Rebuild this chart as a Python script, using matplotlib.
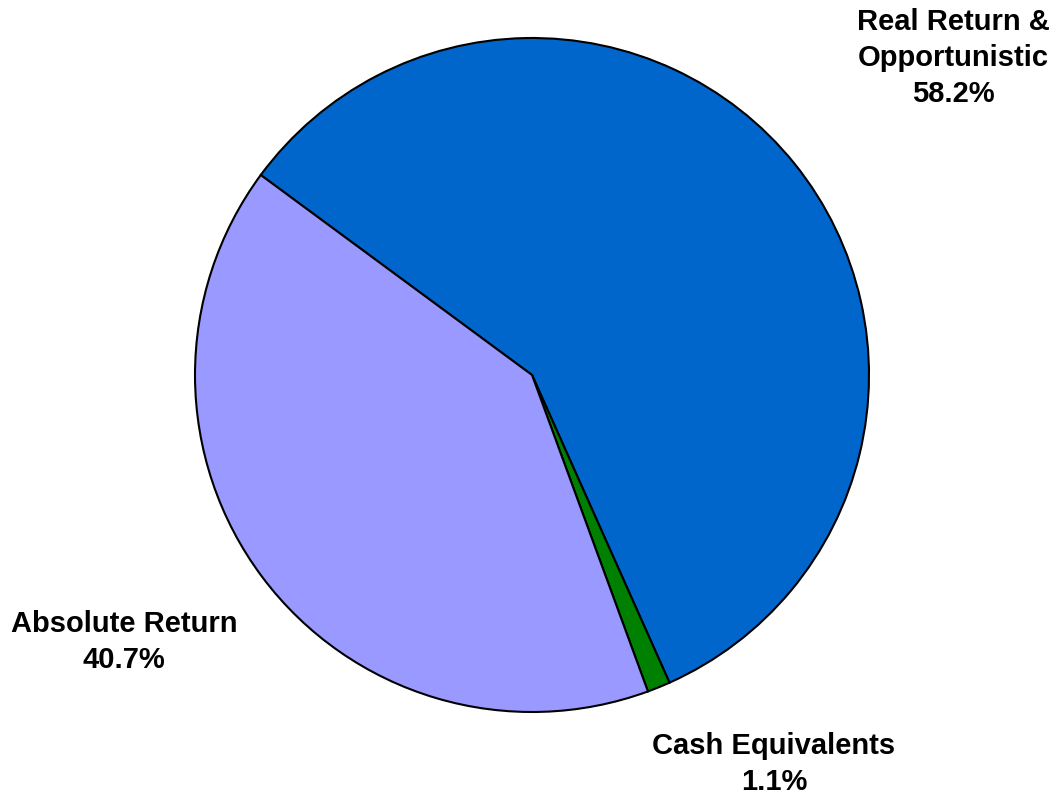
import matplotlib
matplotlib.use("Agg")
import matplotlib.pyplot as plt

# Allocation shares (percent), drawn clockwise
categories = ["Real Return &\nOpportunistic", "Cash Equivalents", "Absolute Return"]
shares = [58.2, 1.1, 40.7]
colors = ["#0066CC", "#008000", "#9999FF"]

W, H = 1054, 798
fig = plt.figure(figsize=(W / 100, H / 100), dpi=100)
ax = fig.add_axes([0, 0, 1, 1])

ax.pie(shares, colors=colors, startangle=143.6, counterclock=False,
       radius=337, center=(532, H - 375), frame=True,
       wedgeprops=dict(edgecolor="black", linewidth=1.5))
ax.set_xlim(0, W)
ax.set_ylim(0, H)
ax.set_aspect("equal")
ax.axis("off")

font = dict(family=["Liberation Sans", "DejaVu Sans"], fontsize=21,
            fontweight="bold", ha="center", va="center", linespacing=1.35)

# label anchors in pixel coordinates (x, y from top)
label_pos = [(953, 58), (774, 764), (124, 642)]
for name, val, (x, y) in zip(categories, shares, label_pos):
    ax.text(x, H - y, f"{name}\n{val:.1f}%", **font)

fig.savefig("out.png", dpi=100)
